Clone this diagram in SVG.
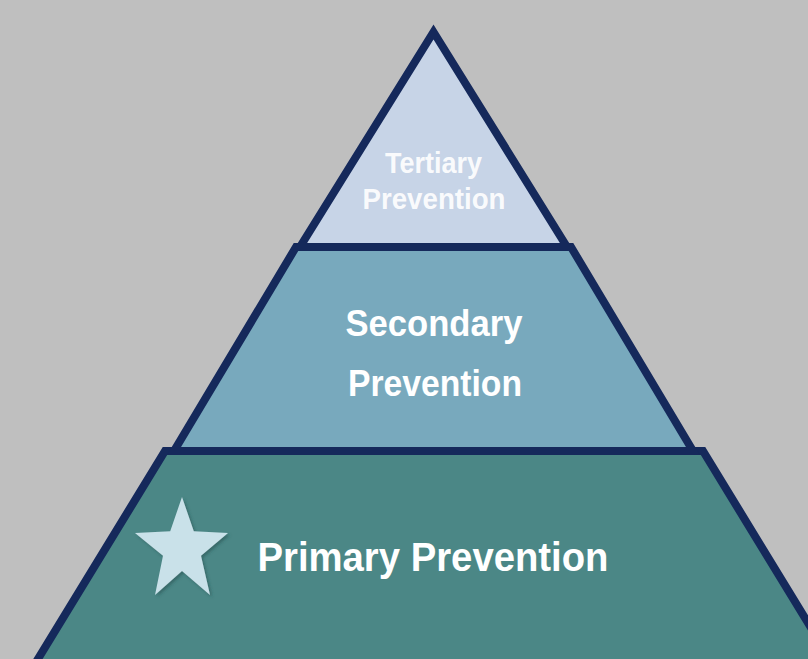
<svg xmlns="http://www.w3.org/2000/svg" width="808" height="659" viewBox="0 0 808 659">
  <defs>
    <style>
      .tier { stroke: #15295b; stroke-width: 8; stroke-linejoin: miter; }
      .lbl { font-family: "Liberation Sans", Arial, sans-serif; font-weight: bold; fill: #ffffff; text-anchor: middle; }
    </style>
    <filter id="sh" x="-20%" y="-20%" width="140%" height="140%">
      <feDropShadow dx="2" dy="2" stdDeviation="1.5" flood-color="#1e4b4b" flood-opacity="0.5"/>
    </filter>
  </defs>
  <rect x="0" y="0" width="808" height="659" fill="#bfbfbf"/>
  <g id="primary">
    <polygon class="tier" points="165,451 703,451 838,672 30,672" fill="#4b8786"/>
    <polygon points="182,497 193.8,531.2 228,533 201,555.8 210,595 182,571 155,595 163,555.8 135,533 170.2,531.2" fill="#c9e1e9" filter="url(#sh)"/>
    <text class="lbl" x="433" y="571" font-size="41" textLength="351" lengthAdjust="spacingAndGlyphs">Primary Prevention</text>
  </g>
  <g id="secondary">
    <polygon class="tier" points="296,247 571,247 693,451 174,451" fill="#78a9bd"/>
    <text class="lbl" x="434" y="336" font-size="37" textLength="177" lengthAdjust="spacingAndGlyphs">Secondary</text>
    <text class="lbl" x="435" y="396" font-size="37" textLength="174" lengthAdjust="spacingAndGlyphs">Prevention</text>
  </g>
  <g id="tertiary">
    <polygon class="tier" points="433.5,32 567,247 300,247" fill="#c7d4e7"/>
    <text class="lbl" x="433.5" y="173" font-size="29" textLength="97" lengthAdjust="spacingAndGlyphs" fill-opacity="0.92">Tertiary</text>
    <text class="lbl" x="434" y="209" font-size="29" textLength="143" lengthAdjust="spacingAndGlyphs" fill-opacity="0.92">Prevention</text>
  </g>
  <g id="connectors"></g>
</svg>
